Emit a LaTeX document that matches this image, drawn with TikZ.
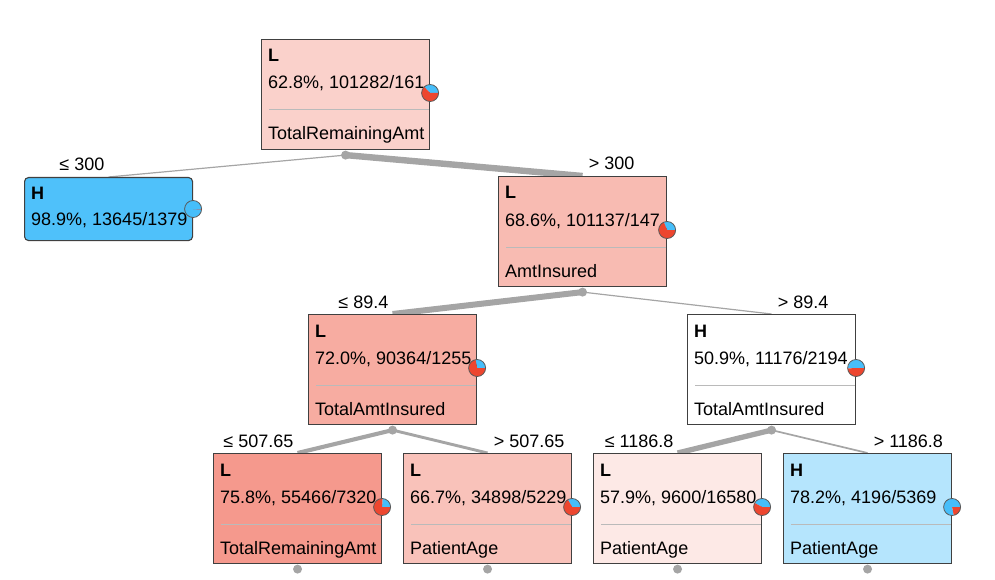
\documentclass[tikz,border=0pt]{standalone}
\usepackage{fontspec}
\setmainfont{Liberation Sans}
\usetikzlibrary{backgrounds}

\definecolor{clsL}{RGB}{237,70,47}
\definecolor{clsH}{RGB}{70,190,250}
\definecolor{edgegray}{RGB}{165,165,165}
\definecolor{framegray}{RGB}{64,64,64}

\tikzset{
  box/.style={draw=framegray, line width=1.1pt, minimum width=168pt, minimum height=110pt,
    inner sep=0pt, anchor=north west},
  leafbox/.style={box, minimum height=63pt, rounded corners=4pt},
  txt/.style={anchor=base west, inner sep=0pt, font=\fontsize{18pt}{21pt}\selectfont},
  lbl/.style={txt},
  sepline/.style={draw=black!27, line width=1pt},
  pierim/.style={draw=black!65, line width=0.8pt},
  dot/.style={circle, fill=edgegray, minimum size=9pt, inner sep=0pt},
  edgeline/.style={draw=edgegray, line cap=butt},
}

% pie of class shares, H first from 0 deg
\newcommand{\piechart}[3]{%
  \coordinate (#1pie) at ([yshift=-#2pt]#1.north east);
  \fill[clsH] (#1pie) -- ++(0:8.5pt) arc[start angle=0, end angle={360*#3}, radius=8.5pt] -- cycle;
  \fill[clsL] (#1pie) -- ++({360*#3}:8.5pt) arc[start angle={360*#3}, end angle=360, radius=8.5pt] -- cycle;
  \draw[pierim] (#1pie) circle[radius=8.5pt];
}

% inner tree node: name, left, top, fill, class, stats, split attribute, share of H
\newcommand{\treebox}[8]{%
  \node[box, fill=#4] (#1) at (#2,-#3) {};
  \begin{scope}
    \clip (#1.north west) rectangle (#1.south east);
    \node[txt] (#1cls) at ([shift={(7pt,-23pt)}]#1.north west) {\bfseries #5};
    \node[txt] (#1stat) at ([shift={(7pt,-50pt)}]#1.north west) {#6};
    \node[txt] (#1attr) at ([shift={(7pt,-101pt)}]#1.north west) {#7};
  \end{scope}
  \draw[sepline] ([shift={(8pt,-71pt)}]#1.north west) -- ([shift={(-1pt,-71pt)}]#1.north east);
  \piechart{#1}{54}{#8}
  \node[dot] (#1dot) at ([yshift=-5pt]#1.south) {};
}

\begin{document}
\begin{tikzpicture}[x=1pt, y=1pt]
  \useasboundingbox (0,0) rectangle (995,-580);

  % Tree structure
  \treebox{root}{261}{39}{clsL!25!white}{L}{62.8\%, 101282/161}{TotalRemainingAmt}{0.372}

  \node[leafbox, fill=clsH!95!white] (hleaf) at (24,-177) {};
  \begin{scope}
    \clip (hleaf.north west) rectangle (hleaf.south east);
    \node[txt] (hleafcls) at ([shift={(7pt,-23pt)}]hleaf.north west) {\bfseries H};
    \node[txt] (hleafstat) at ([shift={(7pt,-48pt)}]hleaf.north west) {98.9\%, 13645/1379};
  \end{scope}
  \piechart{hleaf}{32}{0.989}

  \treebox{amt}{498}{176}{clsL!37!white}{L}{68.6\%, 101137/147}{AmtInsured}{0.314}

  \treebox{lowins}{308}{314}{clsL!45!white}{L}{72.0\%, 90364/1255}{TotalAmtInsured}{0.28}
  \treebox{highins}{687}{314}{white}{H}{50.9\%, 11176/2194}{TotalAmtInsured}{0.509}

  \treebox{lowrem}{213}{453}{clsL!55!white}{L}{75.8\%, 55466/7320}{TotalRemainingAmt}{0.242}
  \treebox{highrem}{403}{453}{clsL!33!white}{L}{66.7\%, 34898/5229}{PatientAge}{0.333}
  \treebox{lowtot}{593}{453}{clsL!12!white}{L}{57.9\%, 9600/16580}{PatientAge}{0.421}
  \treebox{hightot}{783}{453}{clsH!40!white}{H}{78.2\%, 4196/5369}{PatientAge}{0.782}

  % branches, width by share of parent
  \begin{scope}[on background layer]
    \draw[edgeline, line width=1.2pt] (rootdot.center) -- (hleaf.north);
    \draw[edgeline, line width=6.4pt] (rootdot.center) -- (amt.north);
    \draw[edgeline, line width=6pt] (amtdot.center) -- (lowins.north);
    \draw[edgeline, line width=1.2pt] (amtdot.center) -- (highins.north);
    \draw[edgeline, line width=4.1pt] (lowinsdot.center) -- (lowrem.north);
    \draw[edgeline, line width=2.9pt] (lowinsdot.center) -- (highrem.north);
    \draw[edgeline, line width=5.3pt] (highinsdot.center) -- (lowtot.north);
    \draw[edgeline, line width=1.7pt] (highinsdot.center) -- (hightot.north);
  \end{scope}

  % split labels
  \node[lbl, anchor=base east] (lhleaf) at ([shift={(-4pt,6pt)}]hleaf.north) {≤ 300};
  \node[lbl] (lamt) at ([shift={(6pt,6pt)}]amt.north) {> 300};
  \node[lbl, anchor=base east] (llowins) at ([shift={(-4pt,6pt)}]lowins.north) {≤ 89.4};
  \node[lbl] (lhighins) at ([shift={(6pt,6pt)}]highins.north) {> 89.4};
  \node[lbl, anchor=base east] (llowrem) at ([shift={(-4pt,6pt)}]lowrem.north) {≤ 507.65};
  \node[lbl] (lhighrem) at ([shift={(6pt,6pt)}]highrem.north) {> 507.65};
  \node[lbl, anchor=base east] (llowtot) at ([shift={(-4pt,6pt)}]lowtot.north) {≤ 1186.8};
  \node[lbl] (lhightot) at ([shift={(6pt,6pt)}]hightot.north) {> 1186.8};
\end{tikzpicture}
\end{document}
